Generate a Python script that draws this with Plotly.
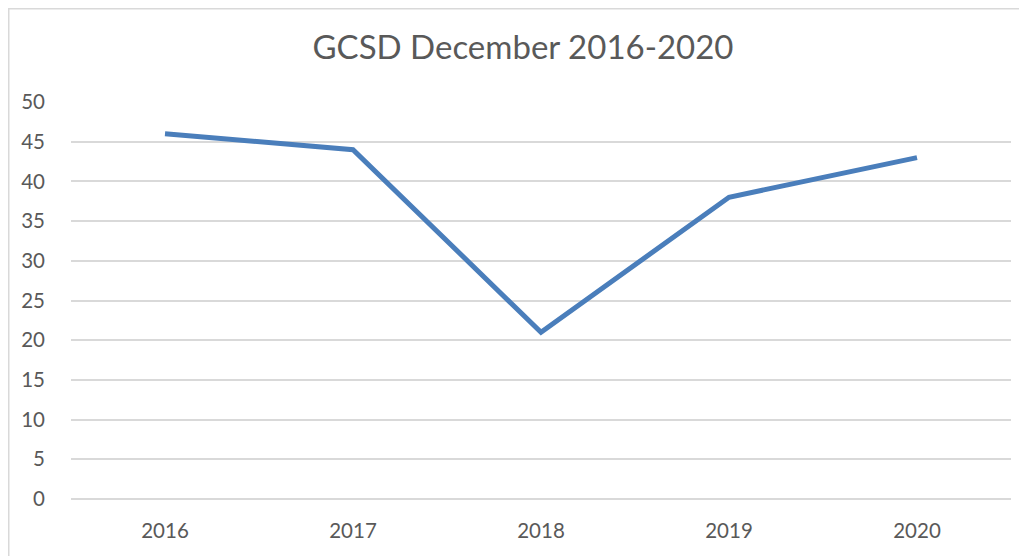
import plotly.graph_objects as go

years = ["2016", "2017", "2018", "2019", "2020"]
values = [46, 44, 21, 38, 43]
y_ticks = [0, 5, 10, 15, 20, 25, 30, 35, 40, 45, 50]

# page body has an 8px margin; figure is sized to fit the remaining window
W, H = 1019, 548
L, R, T, B = 63, 16, 94, 57
pw = W - L - R
ph = H - T - B

fig = go.Figure()
fig.add_trace(go.Scatter(
    x=years, y=values, mode="lines",
    line=dict(color="#4A7EBB", width=5),
    hoverinfo="x+y", showlegend=False,
))

fig.update_layout(
    width=W, height=H,
    margin=dict(l=L, r=R, t=T, b=B, pad=0),
    paper_bgcolor="white", plot_bgcolor="white",
    font=dict(family="Lato, Open Sans, sans-serif", color="#595959", size=20.5),
    title=dict(text="GCSD December 2016-2020", x=(515) / W, xanchor="center",
               y=1 - 39 / H, yanchor="middle",
               font=dict(size=33, color="#595959")),
    xaxis=dict(type="category", showgrid=False, zeroline=False, showline=False,
               ticks="", ticklabelstandoff=17, range=[-0.5, 4.5]),
    yaxis=dict(range=[0, 50], tickvals=y_ticks, showgrid=True, gridcolor="#D9D9D9",
               gridwidth=1.5, zeroline=True, zerolinecolor="#D9D9D9", zerolinewidth=1.5,
               showline=False, ticks="", ticklabelstandoff=25),
    shapes=[dict(type="rect", xref="paper", yref="paper",
                 x0=(0.75 - L) / pw, x1=(1040 - L) / pw,
                 y0=(H - B - 570) / ph, y1=(H - B - 0.75) / ph,
                 line=dict(color="#D9D9D9", width=1.5), fillcolor="rgba(0,0,0,0)",
                 layer="below")],
)

fig.write_html("out.html")
